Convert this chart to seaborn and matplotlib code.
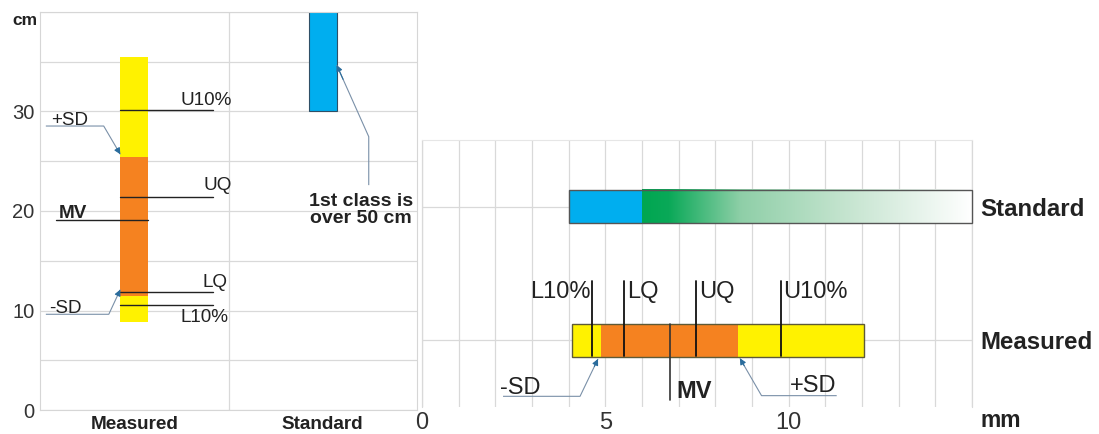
import numpy as np
import pandas as pd
import matplotlib
matplotlib.use("Agg")
import matplotlib.pyplot as plt
from matplotlib.colors import LinearSegmentedColormap
import seaborn as sns

# ---------------- data: length (cm), left panel ----------------
len_categories = ["Measured", "Standard"]
len_min = 8.8
len_l10 = 10.6
len_sd_minus = 11.5
len_lq = 11.9
len_mv = 19.1
len_uq = 21.4
len_sd_plus = 25.4
len_u10 = 30.2
len_max = 35.5
len_std_range = [30.0, 50.0]
len_yticks = [0, 10, 20, 30]

# ---------------- data: width (mm), right panel ----------------
wid_categories = ["Standard", "Measured"]
wid_min = 4.1
wid_l10 = 4.64
wid_sd_minus = 4.88
wid_lq = 5.5
wid_mv = 6.76
wid_uq = 7.48
wid_sd_plus = 8.63
wid_u10 = 9.78
wid_max = 12.06
wid_std_blue = [4.0, 6.0]
wid_std_green = [6.0, 15.0]
wid_xticks = [0, 5, 10]

# ---------------- style ----------------
sns.set_theme(style="white")
plt.rcParams["font.family"] = ["Liberation Sans", "DejaVu Sans"]

YELLOW = "#FFF200"
ORANGE = "#F58220"
BLUE = "#00AEEF"
GREEN = "#00A651"
GRID = "#d9d9d9"
TXT = "#222222"
LEAD = "#7a90a8"
HEAD = "#2a6c9c"

W, H = 1099, 434
fig = plt.figure(figsize=(W / 100, H / 100), dpi=100)
axL = fig.add_axes([40 / W, (H - 410) / H, (417 - 40) / W, (410 - 12) / H])
axR = fig.add_axes([422 / W, (H - 407) / H, (972 - 422) / W, (407 - 140) / H])


def leader(ax, pts, tip):
    """Polyline through pts ending with an arrow at tip."""
    xs_ = [p[0] for p in pts] + [tip[0]]
    ys_ = [p[1] for p in pts] + [tip[1]]
    ax.plot(xs_, ys_, color=LEAD, lw=0.8, zorder=4, solid_capstyle="butt")
    last = pts[-1]
    start = (last[0] + 0.8 * (tip[0] - last[0]), last[1] + 0.8 * (tip[1] - last[1]))
    ax.annotate("", xy=tip, xytext=start,
                arrowprops=dict(arrowstyle="-|>", color=HEAD, lw=0.8, mutation_scale=9,
                                shrinkA=0, shrinkB=0), zorder=5)


# ================= LEFT PANEL =================
bw_L = 0.148


def vseg(ax, cat, lo, hi, color, **kw):
    df = pd.DataFrame({"cat": [cat], "val": [hi - lo]})
    sns.barplot(data=df, x="cat", y="val", order=len_categories, ax=ax,
                width=bw_L, color=color, saturation=1, errorbar=None,
                bottom=lo, zorder=2, **kw)


vseg(axL, "Measured", len_min, len_sd_minus, YELLOW, linewidth=0)
vseg(axL, "Measured", len_sd_minus, len_sd_plus, ORANGE, linewidth=0)
vseg(axL, "Measured", len_sd_plus, len_max, YELLOW, linewidth=0)
vseg(axL, "Standard", len_std_range[0], len_std_range[1], BLUE,
     edgecolor="#2f4f66", linewidth=0.8)

xm = len_categories.index("Measured")
xs = len_categories.index("Standard")
x_edge = xm - bw_L / 2

for v in [len_u10, len_uq, len_lq, len_l10]:
    axL.plot([x_edge, xm + 0.42], [v, v], color=TXT, lw=1.0, zorder=3)
axL.plot([xm - 0.416, xm + bw_L / 2], [len_mv, len_mv], color=TXT, lw=1.0, zorder=3)

fsL = 13.6
axL.text(xm + 0.243, len_u10 + 0.45, "U10%", ha="left", va="baseline", fontsize=fsL, color=TXT)
axL.text(xm + 0.369, len_uq + 0.7, "UQ", ha="left", va="baseline", fontsize=fsL, color=TXT)
axL.text(xm + 0.364, len_lq + 0.5, "LQ", ha="left", va="baseline", fontsize=fsL, color=TXT)
axL.text(xm + 0.243, len_l10 - 0.4, "L10%", ha="left", va="top", fontsize=fsL, color=TXT)
axL.text(xm - 0.40, len_mv + 0.2, "MV", ha="left", va="baseline", fontsize=fsL,
         fontweight="bold", color=TXT)

# +SD / -SD leaders
yp = 28.54
leader(axL, [(xm - 0.469, yp), (xm - 0.162, yp)], (x_edge, len_sd_plus + 0.3))
axL.text(xm - 0.443, yp + 0.15, "+SD", ha="left", va="baseline", fontsize=fsL, color=TXT)
ym = 9.62
leader(axL, [(xm - 0.469, ym), (xm - 0.135, ym)], (x_edge, len_sd_minus + 0.6))
axL.text(xm - 0.453, ym + 0.15, "-SD", ha="left", va="baseline", fontsize=fsL, color=TXT)

# Standard annotation
leader(axL, [(xs + 0.244, 22.6), (xs + 0.244, 27.47)], (xs + bw_L / 2, 34.67))
axL.text(xs + 0.202, 20.1, "1st class is\nover 50 cm", ha="center", va="center",
         fontsize=14, fontweight="bold", color=TXT, linespacing=1.05)

axL.set_xlim(-0.5, 1.5)
axL.set_ylim(0, 40)
axL.set_yticks(np.arange(0, 41, 5))
axL.set_yticklabels([str(t) if t in len_yticks else "" for t in np.arange(0, 41, 5)])
axL.yaxis.grid(True, color=GRID, lw=0.9)
axL.xaxis.grid(False)
axL.axvline(0.5, color=GRID, lw=0.9, zorder=0.6)
axL.set_axisbelow(True)
axL.set_xlabel("")
axL.set_ylabel("")
axL.tick_params(axis="y", length=0, pad=4, labelsize=14.5, labelcolor="#333333")
axL.tick_params(axis="x", length=0, pad=4, labelsize=13.6, labelcolor=TXT)
for lab in axL.get_xticklabels():
    lab.set_fontweight("bold")
for sp in axL.spines.values():
    sp.set_color("#d6d6d6")
    sp.set_linewidth(0.8)
axL.annotate("cm", xy=(0, 1), xycoords="axes fraction", xytext=(-2, -9.4),
             textcoords="offset points", ha="right", va="baseline",
             fontsize=12.5, fontweight="bold", color=TXT)

# ================= RIGHT PANEL =================
bh_R = 0.25


def hseg(ax, cat, lo, hi, color, **kw):
    df = pd.DataFrame({"cat": [cat], "val": [hi - lo]})
    sns.barplot(data=df, x="val", y="cat", order=wid_categories, orient="h", ax=ax,
                width=bh_R, color=color, saturation=1, errorbar=None,
                left=lo, **kw)


ys = wid_categories.index("Standard")
ymeas = wid_categories.index("Measured")

hseg(axR, "Standard", wid_std_blue[0], wid_std_blue[1], BLUE, linewidth=0, zorder=2)
grad_cmap = LinearSegmentedColormap.from_list(
    "fade", [(0.0, GREEN), (0.08, "#0aa958"), (0.3, "#8fcfa8"),
             (0.6, "#c2e3cd"), (0.85, "#e8f4ec"), (1.0, "#ffffff")])
grad = np.linspace(0, 1, 256).reshape(1, -1)
axR.imshow(grad, extent=[wid_std_green[0], wid_std_green[1], ys + bh_R / 2, ys - bh_R / 2],
           cmap=grad_cmap, aspect="auto", zorder=2, interpolation="bilinear")
hseg(axR, "Standard", wid_std_blue[0], wid_std_green[1], "#555555", fill=False,
     linewidth=1.0, zorder=3, clip_on=False)

hseg(axR, "Measured", wid_min, wid_sd_minus, YELLOW, linewidth=0, zorder=2)
hseg(axR, "Measured", wid_sd_minus, wid_sd_plus, ORANGE, linewidth=0, zorder=2)
hseg(axR, "Measured", wid_sd_plus, wid_max, YELLOW, linewidth=0, zorder=2)
hseg(axR, "Measured", wid_min, wid_max, "#5e5a36", fill=False, linewidth=1.0, zorder=3)

for v in [wid_l10, wid_lq, wid_uq, wid_u10]:
    axR.plot([v, v], [ymeas - 0.447, ymeas + 0.12], color="#111111", lw=1.3, zorder=4)
axR.plot([wid_mv, wid_mv], [ymeas - 0.125, ymeas + 0.45], color="#333333", lw=1.2, zorder=4)

fsR = 17
axR.text(wid_l10 - 0.04, ymeas - 0.447, "L10%", ha="right", va="top", fontsize=fsR, color=TXT)
axR.text(wid_lq + 0.09, ymeas - 0.447, "LQ", ha="left", va="top", fontsize=fsR, color=TXT)
axR.text(wid_uq + 0.09, ymeas - 0.447, "UQ", ha="left", va="top", fontsize=fsR, color=TXT)
axR.text(wid_u10 + 0.07, ymeas - 0.447, "U10%", ha="left", va="top", fontsize=fsR, color=TXT)
axR.text(wid_mv + 0.17, ymeas + 0.432, "MV", ha="left", va="baseline", fontsize=fsR,
         fontweight="bold", color=TXT)

# -SD / +SD leaders
leader(axR, [(2.21, ymeas + 0.42), (4.31, ymeas + 0.42)], (wid_sd_minus - 0.08, ymeas + 0.14))
axR.text(3.24, ymeas + 0.405, "-SD", ha="right", va="baseline", fontsize=fsR, color=TXT)
leader(axR, [(11.31, ymeas + 0.415), (9.26, ymeas + 0.415)], (wid_sd_plus + 0.04, ymeas + 0.135))
axR.text(10.03, ymeas + 0.39, "+SD", ha="left", va="baseline", fontsize=fsR, color=TXT)

axR.set_xlim(0, 15)
axR.set_ylim(1.5, -0.5)
axR.set_xticks(np.arange(0, 16, 1))
axR.set_xticklabels([str(t) if t in wid_xticks else "" for t in range(16)])
axR.set_yticks([ys, ymeas])
axR.set_yticklabels(wid_categories)
axR.xaxis.grid(True, color=GRID, lw=0.9)
axR.yaxis.grid(True, color=GRID, lw=0.9)
axR.axvline(15, color=GRID, lw=0.9, zorder=0.6, clip_on=False)
axR.axvline(0, color=GRID, lw=0.9, zorder=0.6, clip_on=False)
axR.set_axisbelow(True)
axR.set_xlabel("")
axR.set_ylabel("")
axR.yaxis.tick_right()
axR.tick_params(axis="y", length=0, pad=6, labelsize=17.3, labelcolor=TXT,
                left=False, right=False, labelleft=False, labelright=True)
axR.tick_params(axis="x", length=0, pad=3.5, labelsize=17, labelcolor="#333333")
for lab in axR.get_yticklabels():
    lab.set_fontweight("bold")
for name, sp in axR.spines.items():
    sp.set_visible(name == "top")
    sp.set_color("#e6e6e6")
    sp.set_linewidth(0.8)
axR.annotate("mm", xy=(1, 0), xycoords="axes fraction", xytext=(6, -14.2),
             textcoords="offset points", ha="left", va="baseline",
             fontsize=16.5, fontweight="bold", color=TXT)

fig.savefig("out.png", dpi=100, facecolor="white")
